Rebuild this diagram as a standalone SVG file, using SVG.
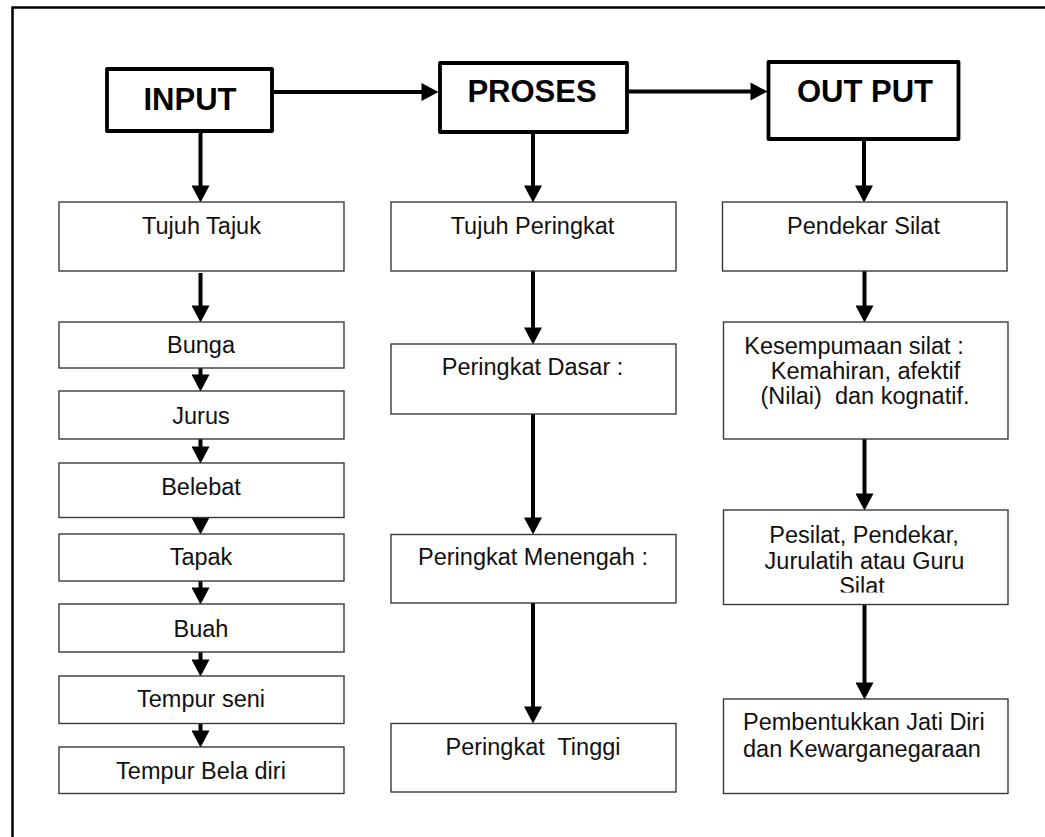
<svg xmlns="http://www.w3.org/2000/svg" width="1045" height="837" viewBox="0 0 1045 837">
<style>
.frame{fill:none;stroke:#000;stroke-width:2.5}
.hbox{fill:#fff;stroke:#000;stroke-width:3.8;stroke-linejoin:round}
.box{fill:#fff;stroke:#3a3a3a;stroke-width:1.4}
.h{font-family:"Liberation Sans",Arial,sans-serif;font-weight:bold;font-size:31px;fill:#000;text-anchor:middle}
.t{font-family:"Liberation Sans",Arial,sans-serif;font-size:23.5px;fill:#111;text-anchor:middle}
.tl{font-family:"Liberation Sans",Arial,sans-serif;font-size:23.5px;fill:#111}
.c{fill:none;stroke:#000;stroke-width:4}
</style>
<defs>
<marker id="ah" markerUnits="userSpaceOnUse" markerWidth="18" markerHeight="18" refX="8" refY="8.5" orient="auto" viewBox="0 0 16 17">
<path d="M0,0 L16,8.5 L0,17 z" fill="#000"/>
</marker>
<clipPath id="clipPes"><rect x="723" y="510" width="285" height="82.5"/></clipPath>
</defs>
<rect width="1045" height="837" fill="#fff"/>
<rect class="frame" x="12.5" y="7.5" width="1060" height="860"/>

<g id="connectors">
<path class="c" d="M274,92 H430" marker-end="url(#ah)"/>
<path class="c" d="M629,91.5 H759" marker-end="url(#ah)"/>
<path class="c" d="M200.5,133 V194" marker-end="url(#ah)"/>
<path class="c" d="M533,133 V194" marker-end="url(#ah)"/>
<path class="c" d="M864,132 V194" marker-end="url(#ah)"/>
<path class="c" d="M200.5,273 V314" marker-end="url(#ah)"/>
<path class="c" d="M200.5,368 V383" marker-end="url(#ah)"/>
<path class="c" d="M200.5,439 V455" marker-end="url(#ah)"/>
<path class="c" d="M200.5,517.5 V526" marker-end="url(#ah)"/>
<path class="c" d="M200.5,581 V596" marker-end="url(#ah)"/>
<path class="c" d="M200.5,652 V668" marker-end="url(#ah)"/>
<path class="c" d="M200.5,723.5 V739" marker-end="url(#ah)"/>
<path class="c" d="M533,271 V336" marker-end="url(#ah)"/>
<path class="c" d="M533,414 V526" marker-end="url(#ah)"/>
<path class="c" d="M533,603 V715" marker-end="url(#ah)"/>
<path class="c" d="M864.5,271 V314" marker-end="url(#ah)"/>
<path class="c" d="M864.5,439 V502" marker-end="url(#ah)"/>
<path class="c" d="M864.5,604.5 V691" marker-end="url(#ah)"/>
</g>

<g id="input">
<rect class="hbox" x="107" y="69" width="165" height="62"/>
<text class="h" x="190" y="110">INPUT</text>
</g>
<g id="proses">
<rect class="hbox" x="440" y="63" width="187" height="69"/>
<text class="h" x="532" y="101.5">PROSES</text>
</g>
<g id="output">
<rect class="hbox" x="768.5" y="62" width="190" height="77"/>
<text class="h" x="865" y="102">OUT PUT</text>
</g>

<g id="tujuh-tajuk">
<rect class="box" x="59" y="202" width="285" height="69"/>
<text class="t" x="201.5" y="234">Tujuh Tajuk</text>
</g>
<g id="bunga">
<rect class="box" x="59" y="322" width="285" height="46"/>
<text class="t" x="201" y="353">Bunga</text>
</g>
<g id="jurus">
<rect class="box" x="59" y="391" width="285" height="48"/>
<text class="t" x="201" y="424">Jurus</text>
</g>
<g id="belebat">
<rect class="box" x="59" y="463" width="285" height="54.5"/>
<text class="t" x="201" y="494.5">Belebat</text>
</g>
<g id="tapak">
<rect class="box" x="59" y="534" width="285" height="47"/>
<text class="t" x="201" y="565">Tapak</text>
</g>
<g id="buah">
<rect class="box" x="59" y="604" width="285" height="48"/>
<text class="t" x="201" y="637">Buah</text>
</g>
<g id="tempur-seni">
<rect class="box" x="59" y="676" width="285" height="47.5"/>
<text class="t" x="201" y="707">Tempur seni</text>
</g>
<g id="tempur-bela-diri">
<rect class="box" x="59" y="747" width="285" height="46.5"/>
<text class="t" x="201" y="778.5">Tempur Bela diri</text>
</g>

<g id="tujuh-peringkat">
<rect class="box" x="391" y="202" width="285" height="69"/>
<text class="t" x="532.5" y="234">Tujuh Peringkat</text>
</g>
<g id="peringkat-dasar">
<rect class="box" x="391" y="344" width="285" height="70"/>
<text class="t" x="532.5" y="375">Peringkat Dasar :</text>
</g>
<g id="peringkat-menengah">
<rect class="box" x="391" y="534.5" width="285" height="68.5"/>
<text class="t" x="533" y="565">Peringkat Menengah :</text>
</g>
<g id="peringkat-tinggi">
<rect class="box" x="391" y="723.5" width="285" height="68.5"/>
<text class="t" x="533" y="755" xml:space="preserve">Peringkat  Tinggi</text>
</g>

<g id="pendekar-silat">
<rect class="box" x="722.5" y="202" width="284.5" height="69"/>
<text class="t" x="863.5" y="233.5">Pendekar Silat</text>
</g>
<g id="kesempurnaan">
<rect class="box" x="723.5" y="322" width="284.5" height="117"/>
<text class="t" x="854" y="353.5">Kesempumaan silat :</text>
<text class="t" x="865.5" y="378.5">Kemahiran, afektif</text>
<text class="t" x="865" y="403.5" xml:space="preserve">(Nilai)  dan kognatif.</text>
</g>
<g id="pesilat">
<rect class="box" x="723.5" y="510" width="284.5" height="94.5"/>
<g clip-path="url(#clipPes)">
<text class="t" x="864" y="543">Pesilat, Pendekar,</text>
<text class="t" x="864.5" y="568.5">Jurulatih atau Guru</text>
<text class="t" x="862" y="594">Silat</text>
</g>
</g>
<g id="pembentukkan">
<rect class="box" x="723.5" y="699" width="284.5" height="94.5"/>
<text class="tl" x="743" y="730">Pembentukkan Jati Diri</text>
<text class="tl" x="743" y="756.5">dan Kewarganegaraan</text>
</g>
</svg>
